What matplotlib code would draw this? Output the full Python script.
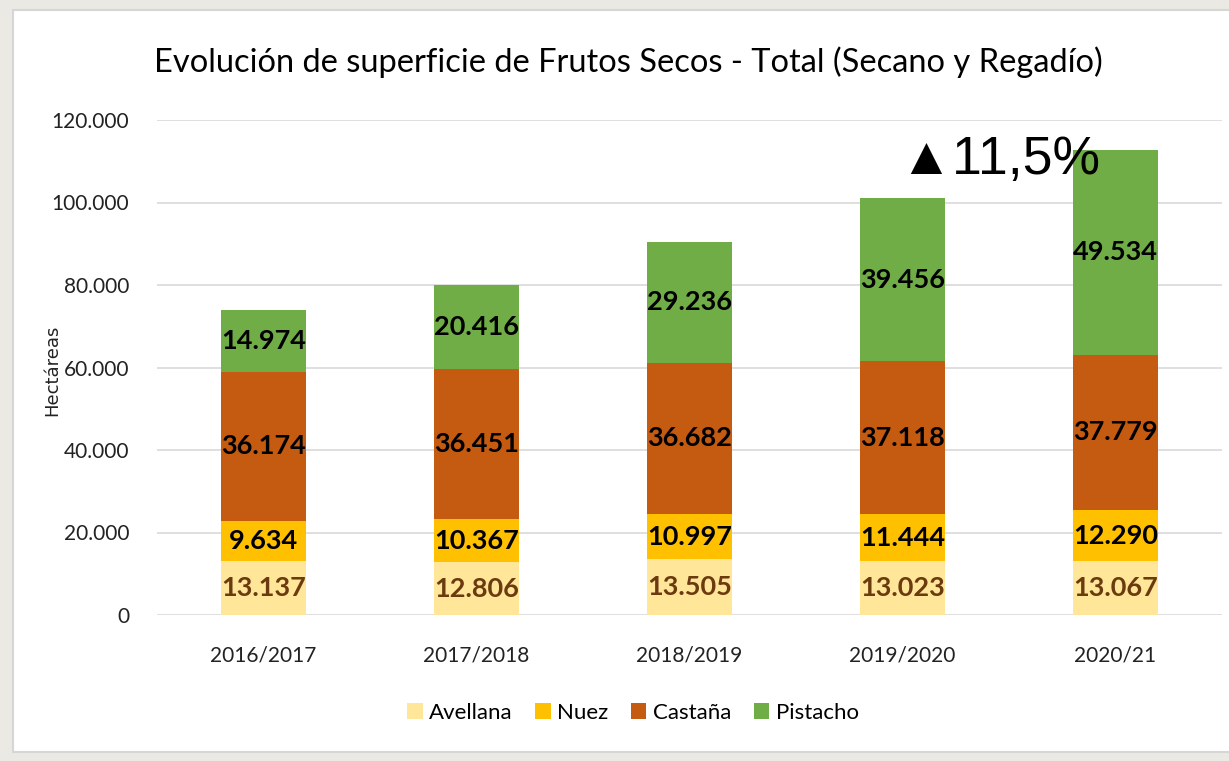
import matplotlib
matplotlib.use("Agg")
import matplotlib.pyplot as plt
import matplotlib.ticker as mtick
from matplotlib.patches import Rectangle
import numpy as np

campaigns = ["2016/2017", "2017/2018", "2018/2019", "2019/2020", "2020/21"]
avellana = [13137, 12806, 13505, 13023, 13067]
nuez = [9634, 10367, 10997, 11444, 12290]
castana = [36174, 36451, 36682, 37118, 37779]
pistacho = [14974, 20416, 29236, 39456, 49534]
series_names = ["Avellana", "Nuez", "Castaña", "Pistacho"]
growth_label = "11,5%"

colors = ["#FFE699", "#FFC000", "#C55A11", "#70AD47"]
label_colors = ["#6b3a0f", "black", "black", "black"]
FONT = ["Lato", "DejaVu Sans"]
plt.rcParams["font.family"] = FONT


def fmt_es(v):
    # thousands separator with a dot, Spanish style
    return "{:,.0f}".format(v).replace(",", ".")


fig = plt.figure(figsize=(12.29, 7.61), dpi=100)
fig.patch.set_facecolor("#ebe9e4")
# white slide panel
fig.patches.append(Rectangle((13 / 1229, 1 - 752 / 761), 1.0, (752 - 10) / 761,
                             transform=fig.transFigure, facecolor="white",
                             edgecolor="#d6d6d6", linewidth=1.5, zorder=-5))

ax = fig.add_axes([157 / 1229, 1 - 615 / 761, (1222 - 157) / 1229, (615 - 120) / 761])
ax.set_facecolor("none")
ax.set_zorder(2)

x = np.arange(len(campaigns))
bottom = np.zeros(len(campaigns))
for name, vals, c, lc in zip(series_names, [avellana, nuez, castana, pistacho], colors, label_colors):
    vals = np.array(vals, dtype=float)
    ax.bar(x, vals, 0.4, bottom=bottom, color=c, label=name, zorder=2)
    for xi, b, v in zip(x, bottom, vals):
        ax.text(xi, b + v / 2, fmt_es(v), ha="center", va="center",
                fontsize=19.5, fontweight="bold", color=lc, zorder=3)
    bottom += vals

ax.set_xlim(-0.5, len(campaigns) - 0.5)
ax.set_ylim(0, 120000)
ax.set_yticks(np.arange(0, 120001, 20000))
ax.yaxis.set_major_formatter(mtick.FuncFormatter(lambda v, p: fmt_es(v)))
ax.set_xticks(x)
ax.set_xticklabels(campaigns)
ax.tick_params(axis="both", length=0, labelsize=15, colors="#222222")
ax.tick_params(axis="y", pad=20)
ax.tick_params(axis="x", pad=22)
ax.grid(axis="y", color="#d9d9d9", linewidth=1.2, zorder=0)
for s in ax.spines.values():
    s.set_visible(False)

fig.text(52 / 1229, 1 - 370 / 761, "Hectáreas", rotation=90, ha="center", va="center",
         fontsize=13, family=["DejaVu Sans"], color="#222222")

fig.text(628 / 1229, 1 - 62 / 761, "Evolución de superficie de Frutos Secos - Total (Secano y Regadío)",
         ha="center", va="center", fontsize=23.5, color="black")

ax.text(2.985, 107000, "\u25B2" + growth_label, ha="left", va="baseline",
        fontsize=38.5, family=["Liberation Sans", "DejaVu Sans"], color="black", zorder=4)

leg = ax.legend(loc="center", bbox_to_anchor=(0.447, -0.198), ncol=4, frameon=False,
                fontsize=16, handlelength=0.7, handleheight=0.7, handletextpad=0.3,
                columnspacing=1.0)

fig.savefig("out.png", dpi=100, facecolor=fig.get_facecolor())
